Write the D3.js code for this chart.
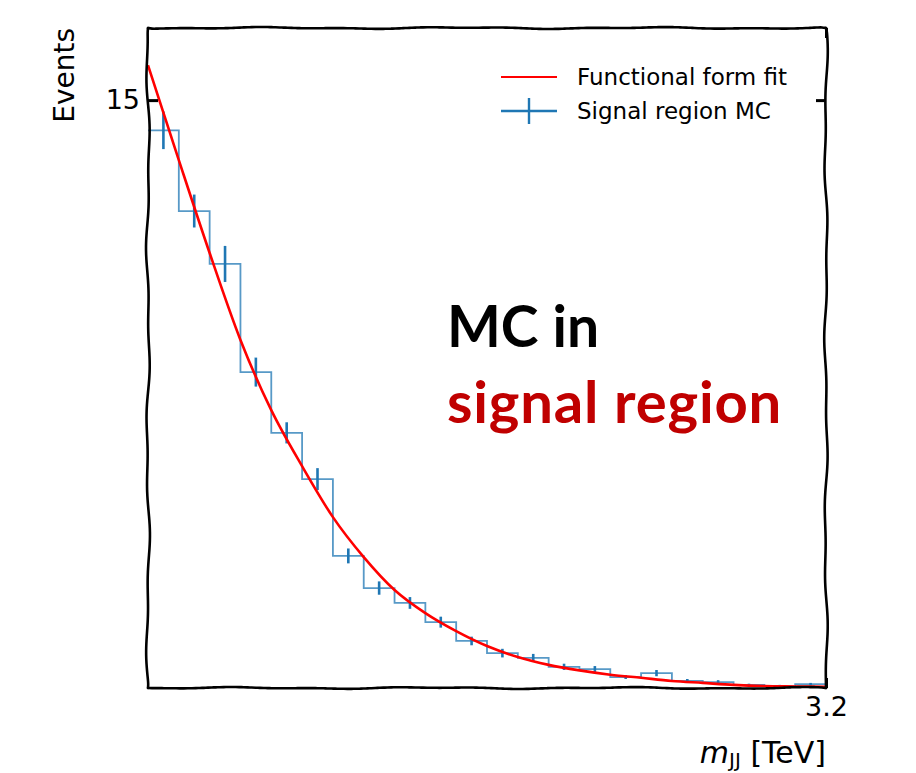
<!DOCTYPE html>
<html>
<head>
<meta charset="utf-8">
<script src="https://cdn.jsdelivr.net/npm/d3@7"></script>
<style>
  body { margin: 0; background: #fff; }
  svg { display: block; }
</style>
</head>
<body>
<div id="chart"></div>
<script>
// xkcd-style histogram: MC in signal region + functional form fit

var WIDTH = 916,
    HEIGHT = 773;

var margin = {top: 28, right: 90, bottom: 85, left: 148},
    width = WIDTH - margin.left - margin.right,
    height = HEIGHT - margin.top - margin.bottom;

// bin edges in TeV (22 bins)
var binEdges = [2.10, 2.15, 2.20, 2.25, 2.30, 2.35, 2.40, 2.45, 2.50, 2.55, 2.60, 2.65,
                2.70, 2.75, 2.80, 2.85, 2.90, 2.95, 3.00, 3.05, 3.10, 3.15, 3.20];
// events per bin
var binValues = [14.23, 12.17, 10.82, 8.06, 6.51, 5.33, 3.37, 2.55, 2.17, 1.68, 1.20,
                 0.89, 0.77, 0.54, 0.48, 0.28, 0.38, 0.18, 0.15, 0.08, 0.05, 0.10];
var binErrors = [0.48, 0.42, 0.46, 0.37, 0.27, 0.28, 0.19, 0.17, 0.15, 0.14, 0.11,
                 0.11, 0.10, 0.08, 0.08, 0.05, 0.08, 0.05, 0.05, 0.03, 0.03, 0.03];
// fit read at bin edges
var fitValues = [15.89, 13.47, 11.10, 8.88, 7.09, 5.66, 4.36, 3.34, 2.50, 1.91, 1.45, 1.07,
                 0.79, 0.59, 0.45, 0.34, 0.26, 0.18, 0.13, 0.08, 0.05, 0.04, 0.03];

var yTicks = [15];
var xTicks = [3.2];
var Y_MAX = 16.84;

var BLUE = '#1f77b4',
    RED = '#ff0000';

var svg = d3.select('#chart').append('svg')
            .attr('width', WIDTH)
            .attr('height', HEIGHT)
            .style('font-family', '"DejaVu Sans", sans-serif');

svg.append('rect').attr('width', WIDTH).attr('height', HEIGHT).attr('fill', '#fff');

var g = svg.append('g')
           .attr('transform', `translate(${margin.left},${margin.top})`);

var x = d3.scaleLinear().domain([binEdges[0], binEdges[binEdges.length - 1]]).range([0, width]),
    y = d3.scaleLinear().domain([0, Y_MAX]).range([height, 0]);

// step histogram
var stepPts = binValues.map((v, i) => [binEdges[i], v]);
stepPts.push([binEdges[binEdges.length - 1], binValues[binValues.length - 1]]);

g.append('path')
 .datum(stepPts)
 .attr('fill', 'none')
 .attr('stroke', BLUE)
 .attr('stroke-opacity', 0.75)
 .attr('stroke-width', 1.8)
 .attr('d', d3.line().curve(d3.curveStepAfter).x(d => x(d[0])).y(d => y(d[1])));

// error bars
var bins = binValues.map((v, i) => ({
  center: (binEdges[i] + binEdges[i + 1]) / 2, value: v, err: binErrors[i]
}));

g.selectAll('.errbar')
 .data(bins).enter()
 .append('line')
 .attr('class', 'errbar')
 .attr('x1', d => x(d.center))
 .attr('x2', d => x(d.center))
 .attr('y1', d => y(d.value + d.err))
 .attr('y2', d => y(d.value - d.err))
 .attr('stroke', BLUE)
 .attr('stroke-width', 2.6);

// fit curve
g.append('path')
 .datum(fitValues.map((v, i) => [binEdges[i], v]))
 .attr('fill', 'none')
 .attr('stroke', RED)
 .attr('stroke-width', 2.6)
 .attr('d', d3.line().curve(d3.curveMonotoneX).x(d => x(d[0])).y(d => y(d[1])));

// wobbly (xkcd) frame
function wobble(x0, y0, x1, y1, amp, seed) {
  var len = Math.hypot(x1 - x0, y1 - y0),
      nx = -(y1 - y0) / len, ny = (x1 - x0) / len,
      n = Math.ceil(len / 4), pts = [];
  for (var i = 0; i <= n; i++) {
    var t = i / n, s = t * len;
    var off = amp * (0.6 * Math.sin(s / 31 + seed) + 0.4 * Math.sin(s / 13 + seed * 2.3));
    if (i === 0 || i === n) off = 0;
    pts.push([x0 + (x1 - x0) * t + nx * off, y0 + (y1 - y0) * t + ny * off]);
  }
  return d3.line().curve(d3.curveBasis)(pts);
}

var frame = [
  [0, 0, width, 0, 1.0, 1],
  [width, 0, width, height, 1.8, 4],
  [0, height, width, height, 1.0, 2],
  [0, 0, 0, height, 2.0, 7]
];

g.selectAll('.frame')
 .data(frame).enter()
 .append('path')
 .attr('class', 'frame')
 .attr('fill', 'none')
 .attr('stroke', '#000')
 .attr('stroke-width', 2.6)
 .attr('stroke-linecap', 'round')
 .attr('d', d => wobble(...d));

// axes (ticks point inward)
function styleAxis(sel) {
  sel.select('.domain').remove();
  sel.selectAll('.tick line').attr('stroke', '#000').attr('stroke-width', 3);
  sel.selectAll('.tick text').attr('fill', '#000').style('font-size', '27px')
     .style('font-family', '"DejaVu Sans", sans-serif');
}

g.append('g')
 .call(d3.axisLeft(y).tickValues(yTicks).tickSize(-10).tickPadding(8).tickFormat(d3.format('d')))
 .call(styleAxis);

g.append('g')
 .attr('transform', `translate(${width},0)`)
 .call(d3.axisRight(y).tickValues(yTicks).tickSize(-10).tickFormat(''))
 .call(styleAxis);

g.append('g')
 .attr('transform', `translate(0,${height})`)
 .call(d3.axisBottom(x).tickValues(xTicks).tickSize(-10).tickPadding(9).tickFormat(d3.format('.1f')))
 .call(styleAxis);

g.append('g')
 .call(d3.axisTop(x).tickValues(xTicks).tickSize(-10).tickFormat(''))
 .call(styleAxis);

// axis labels
svg.append('text')
   .attr('transform', `translate(74,${margin.top}) rotate(-90)`)
   .attr('text-anchor', 'end')
   .style('font-size', '28px')
   .text('Events');

var xlab = svg.append('text')
   .attr('x', margin.left + width)
   .attr('y', 763)
   .attr('text-anchor', 'end')
   .style('font-size', '30px');
xlab.append('tspan').style('font-style', 'italic').text('m');
xlab.append('tspan').attr('dy', 4).style('font-size', '20px').text('JJ');
xlab.append('tspan').attr('dy', -4).text(' [TeV]');

// legend
var legend = svg.append('g').attr('transform', 'translate(501,77)');

legend.append('line')
      .attr('x1', 0).attr('x2', 56).attr('y1', 0).attr('y2', 0)
      .attr('stroke', RED).attr('stroke-width', 2.2);
legend.append('text')
      .attr('x', 76).attr('y', 8)
      .style('font-size', '23px')
      .text('Functional form fit');

legend.append('line')
      .attr('x1', 0).attr('x2', 56).attr('y1', 34).attr('y2', 34)
      .attr('stroke', BLUE).attr('stroke-width', 2.4);
legend.append('line')
      .attr('x1', 28).attr('x2', 28).attr('y1', 21).attr('y2', 47)
      .attr('stroke', BLUE).attr('stroke-width', 2.4);
legend.append('text')
      .attr('x', 76).attr('y', 42)
      .style('font-size', '23px')
      .text('Signal region MC');

// annotation
svg.append('text')
   .attr('x', 447).attr('y', 347)
   .style('font-family', 'Lato, "Open Sans", sans-serif')
   .style('font-weight', 'bold')
   .style('font-size', '57px')
   .attr('fill', '#000')
   .text('MC in');

svg.append('text')
   .attr('x', 447).attr('y', 423)
   .style('font-family', 'Lato, "Open Sans", sans-serif')
   .style('font-weight', 'bold')
   .style('font-size', '58px')
   .style('letter-spacing', '0.8px')
   .attr('fill', '#c00000')
   .text('signal region');
</script>
</body>
</html>
